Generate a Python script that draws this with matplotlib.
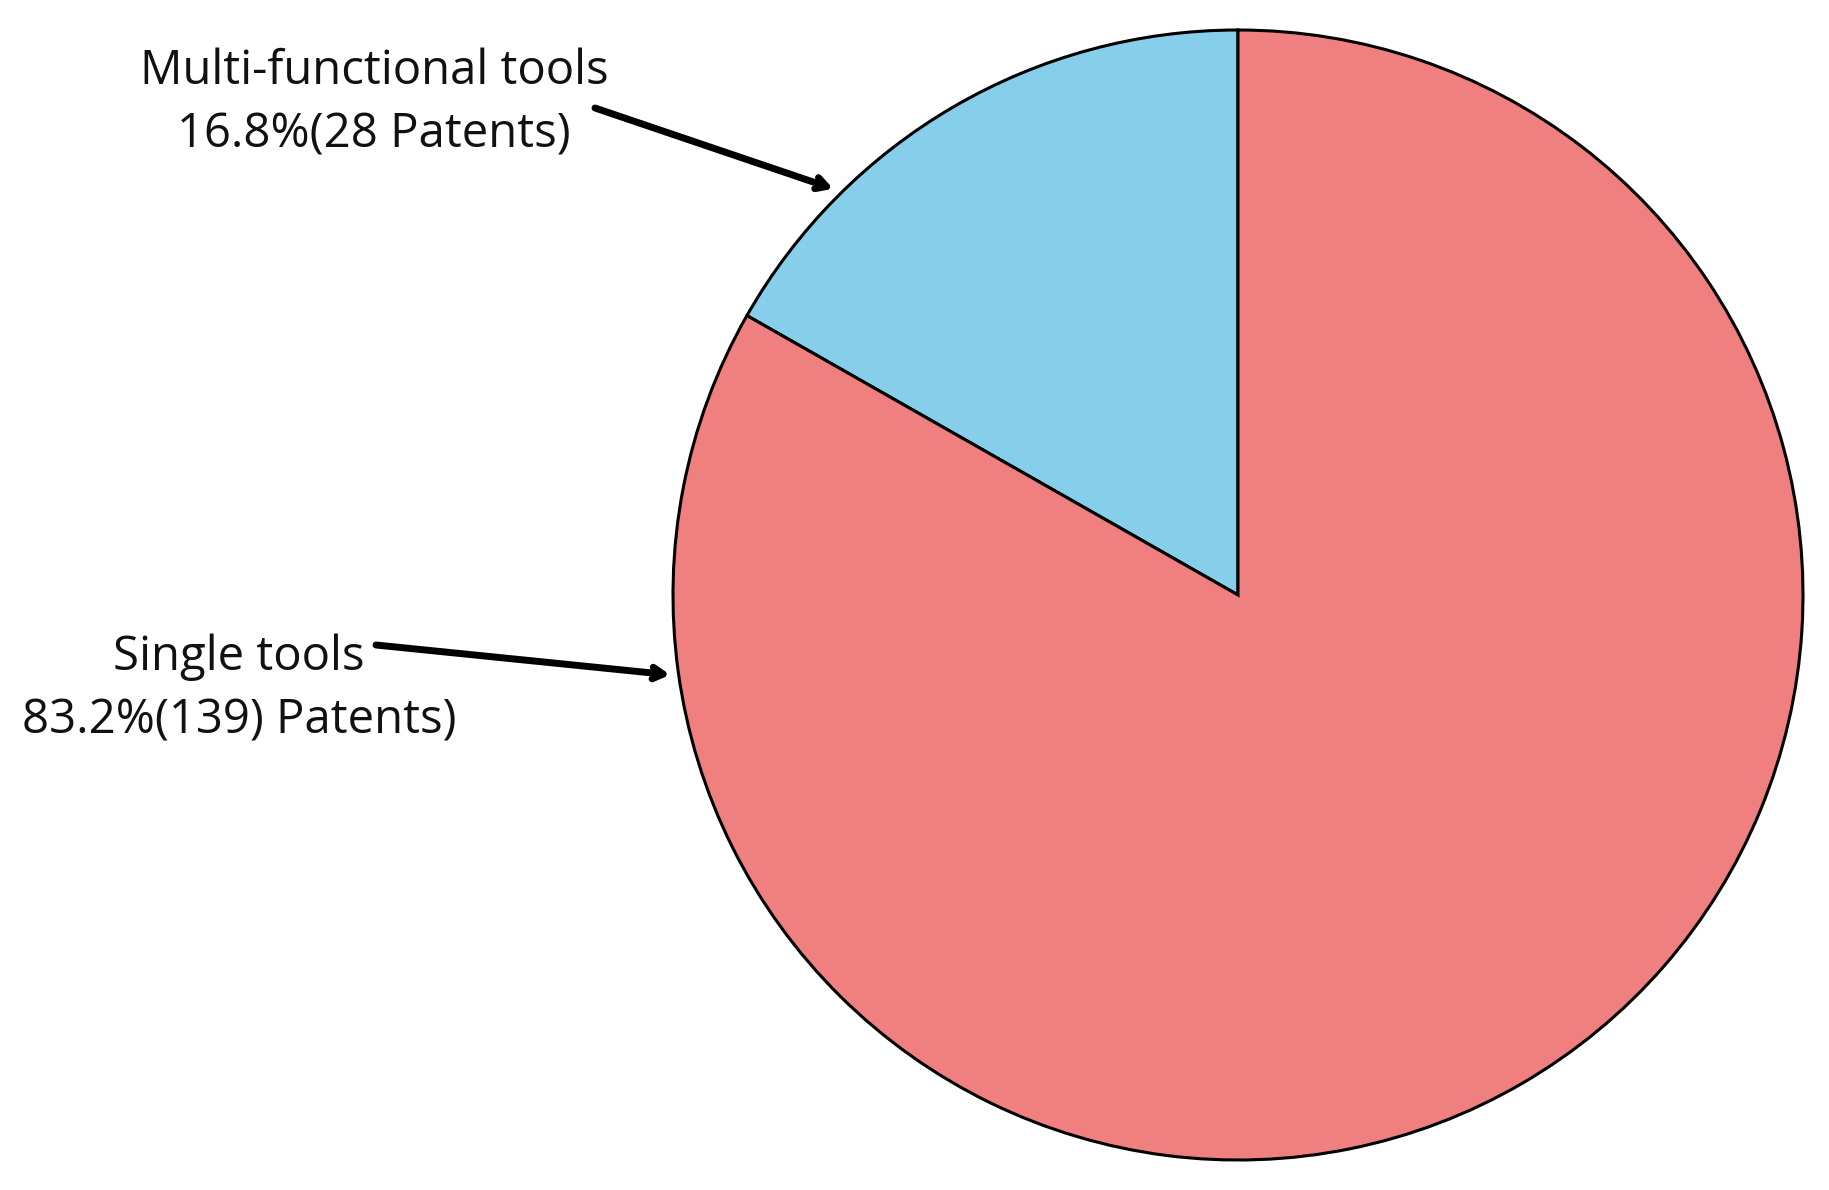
import numpy as np
import matplotlib
matplotlib.use("Agg")
import matplotlib.pyplot as plt

labels = ["Multi-functional tools", "Single tools"]
patents = [28, 139]
percents = ["16.8%", "83.2%"]
label_texts = ["Multi-functional tools\n16.8%(28 Patents)", "Single tools\n83.2%(139) Patents)"]
colors = ["#87CEEB", "#F08080"]

W, H = 1829, 1190
fig = plt.figure(figsize=(W / 100, H / 100), dpi=100)
fig.patch.set_facecolor("white")

cx, cy, r = 1238, 595, 565
ax = fig.add_axes([(cx - r) / W, (H - cy - r) / H, 2 * r / W, 2 * r / H])
ax.pie(patents, colors=colors, startangle=90, counterclock=True,
       wedgeprops=dict(edgecolor="black", linewidth=2.2))
ax.set_xlim(-1, 1)
ax.set_ylim(-1, 1)
ax.set_aspect("equal")
ax.axis("off")

def fig_frac(px, py):
    return (px / W, 1 - py / H)

# label text (figure pixel coordinates converted)
text_pos = [(374, 103), (239, 689)]
for t, (px, py) in zip(label_texts, text_pos):
    fig.text(*fig_frac(px, py), t, ha="center", va="center", fontsize=34,
             family="Open Sans", linespacing=1.42, color="#111111")

# arrows
arrow_tails = [(595, 108), (376, 645)]
arrow_angles = [134.9, 188.0]
for (tx, ty), ang in zip(arrow_tails, arrow_angles):
    a = np.deg2rad(ang)
    ax.annotate("", xy=(1.015 * np.cos(a), 1.015 * np.sin(a)), xycoords="data",
                xytext=fig_frac(tx, ty), textcoords="figure fraction",
                arrowprops=dict(arrowstyle="->,head_length=0.75,head_width=0.42",
                                lw=5, color="black", shrinkA=0, shrinkB=0),
                annotation_clip=False)

fig.savefig("out.png", dpi=100, facecolor="white")
